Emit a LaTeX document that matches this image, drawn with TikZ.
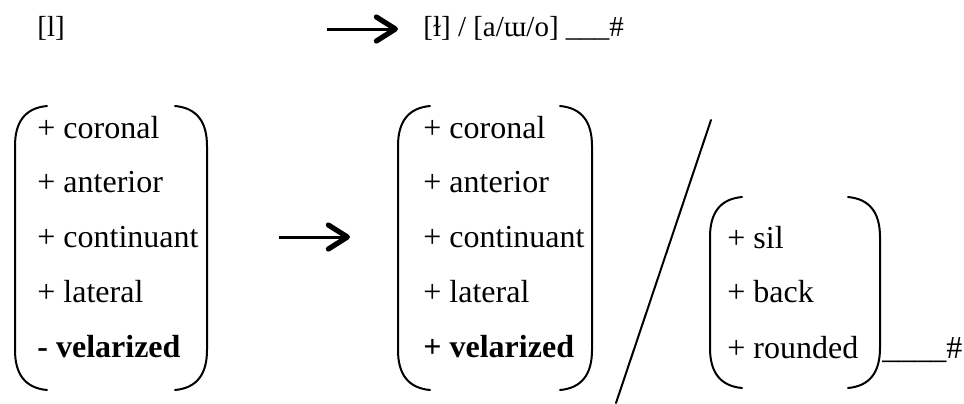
\documentclass[tikz,border=0pt]{standalone}
\usepackage{fontspec}
\setmainfont{Liberation Serif}
\usetikzlibrary{arrows.meta,calc}
\tikzset{
  feat/.style  = {anchor=base west, inner sep=0pt, font=\fontsize{16}{19}\selectfont},
  rulet/.style = {anchor=base west, inner sep=0pt, font=\fontsize{14.5}{17}\selectfont},
  paren/.style = {line width=1pt, line cap=round},
  rarrow/.style= {line width=1.5pt, -{Straight Barb[length=9.5pt,width=12pt,line width=2.6pt,round]}},
}
\begin{document}
\begin{tikzpicture}[x=0.5pt,y=-0.5pt]
\useasboundingbox (0,0) rectangle (964,403);
% top rule
\node[rulet] (lplain) at (37,36) {[l]};
\node[rulet] (lvel) at (423,36) {[ɫ] / [a/ɯ/o] \_\_\_\#};
\coordinate (ta1) at (327,29);
\coordinate (ta2) at (398,29);
\draw[rarrow] (ta1) -- (ta2);
% feature matrices
\foreach \l/\r/\t/\b in {15/207/106/390, 398/592/106/390, 710/880/197/388}{
  \draw[paren] ({\l+32},\t) .. controls ({\l+10},{\t+2}) and (\l,{\t+16}) .. (\l,{\t+40})
    -- (\l,{\b-40}) .. controls (\l,{\b-16}) and ({\l+10},{\b-2}) .. ({\l+32},\b);
  \draw[paren] ({\r-32},\t) .. controls ({\r-10},{\t+2}) and (\r,{\t+16}) .. (\r,{\t+40})
    -- (\r,{\b-40}) .. controls (\r,{\b-16}) and ({\r-10},{\b-2}) .. ({\r-32},\b);
}
% input
\node[feat] (ina) at (37,138) {+ coronal};
\node[feat] (inb) at (37,192) {+ anterior};
\node[feat] (inc) at (37,247) {+ continuant};
\node[feat] (ind) at (37,302) {+ lateral};
\node[feat] (ine) at (37,357) {\textbf{- velarized}};
% output
\node[feat] (outa) at (423,138) {+ coronal};
\node[feat] (outb) at (423,192) {+ anterior};
\node[feat] (outc) at (423,247) {+ continuant};
\node[feat] (outd) at (423,302) {+ lateral};
\node[feat] (oute) at (423,357) {\textbf{+ velarized}};
% environment
\node[feat] (enva) at (727,248) {+ sil};
\node[feat] (envb) at (727,302) {+ back};
\node[feat] (envc) at (727,358) {+ rounded};
\node[feat] (wend) at (882,358) {\_\_\_\_\#};
% arrow and slash
\coordinate (ma1) at (279,237);
\coordinate (ma2) at (350,237);
\draw[rarrow] (ma1) -- (ma2);
\coordinate (sl1) at (711,120);
\coordinate (sl2) at (616,403);
\draw[paren] (sl1) -- (sl2);
\end{tikzpicture}
\end{document}
